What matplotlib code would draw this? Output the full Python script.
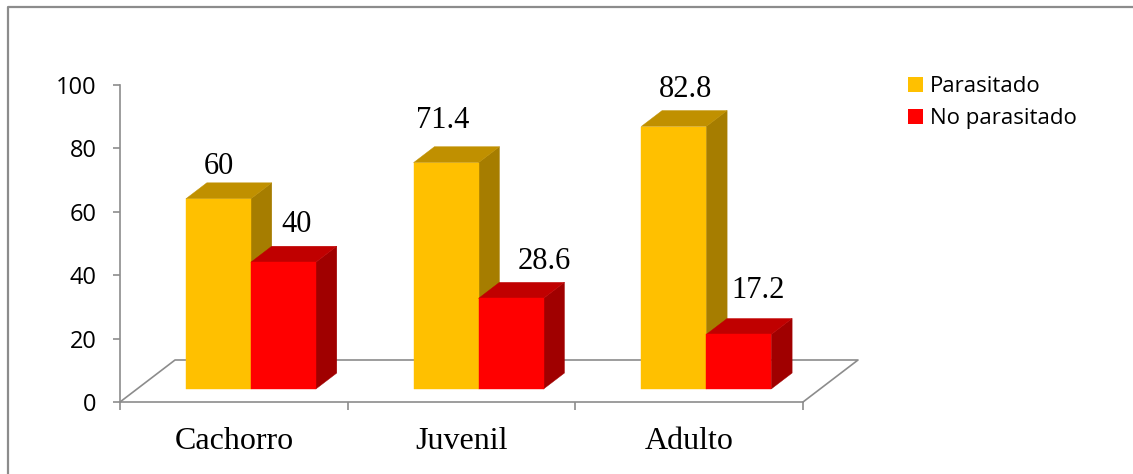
import matplotlib.pyplot as plt
from matplotlib.patches import Polygon, Patch
from matplotlib.lines import Line2D

categories = ['Cachorro', 'Juvenil', 'Adulto']
parasitado = [60, 71.4, 82.8]
no_parasitado = [40, 28.6, 17.2]
series_names = ['Parasitado', 'No parasitado']

# face colours: front, top, side
yellow = ('#FFC000', '#C09000', '#A67D00')
red = ('#FF0000', '#C00000', '#A00000')
gray = '#8C8C8C'

# oblique projection of the depth axis (category units, value units)
DX, DY = 0.2416, 13.25
Z0, Z1 = 0.31, 0.69
BAR_W = 0.2855

# label nudges in pixels (x, y above the back-top edge)
label_dx = [[-10, -14, 1], [3, 23, 9]]
label_dy = [[9, 19, 14], [14, 13, 20]]

W, H = 1133, 474
fig = plt.figure(figsize=(W / 100, H / 100), dpi=100)
ax = fig.add_axes([120 / W, (H - 402) / H, (803 - 120) / W, (402 - 85) / H])
ax.set_xlim(0, 3)
ax.set_ylim(0, 100)


def proj(x, y, z):
    return (x + z * DX, y + z * DY)


def bar3d(x0, x1, v, cols):
    front = [proj(x0, 0, Z0), proj(x1, 0, Z0), proj(x1, v, Z0), proj(x0, v, Z0)]
    top = [proj(x0, v, Z0), proj(x1, v, Z0), proj(x1, v, Z1), proj(x0, v, Z1)]
    side = [proj(x1, 0, Z0), proj(x1, v, Z0), proj(x1, v, Z1), proj(x1, 0, Z1)]
    for pts, c in zip((side, top, front), (cols[2], cols[1], cols[0])):
        ax.add_patch(Polygon(pts, closed=True, facecolor=c, edgecolor=c,
                             linewidth=0.3, clip_on=False, zorder=3))


# floor outline
fx = [0, DX, 3 + DX, 3]
fy = [0, DY, DY, 0]
ax.add_line(Line2D(fx, fy, color=gray, linewidth=1.2, clip_on=False, zorder=1))

for i in range(len(categories)):
    c = i + 0.5
    for s, (vals, cols) in enumerate(((parasitado, yellow), (no_parasitado, red))):
        x0 = c - BAR_W + s * BAR_W
        x1 = x0 + BAR_W
        v = vals[i]
        bar3d(x0, x1, v, cols)
        tx, _ = proj((x0 + x1) / 2, v, (Z0 + Z1) / 2)
        ty = v + Z1 * DY
        ax.annotate(f'{v:g}', (tx, ty), xytext=(label_dx[s][i] * 0.72, label_dy[s][i] * 0.72),
                    textcoords='offset points', ha='center', va='baseline',
                    fontsize=22, family='Liberation Serif', color='black',
                    annotation_clip=False, zorder=5)

# axes styling
for side in ('top', 'right'):
    ax.spines[side].set_visible(False)
for side in ('left', 'bottom'):
    ax.spines[side].set_color(gray)
    ax.spines[side].set_linewidth(1.2)
ax.set_yticks(range(0, 101, 20))
ax.tick_params(axis='y', direction='out', length=5, width=1.2, color=gray,
               pad=12, labelsize=17, labelcolor='black')
for t in ax.get_yticklabels():
    t.set_family('Open Sans')
ax.set_xticks([0, 1, 2, 3])
ax.set_xticklabels([])
ax.tick_params(axis='x', which='major', direction='out', length=6, width=1.2, color=gray)
ax.set_xticks([0.5, 1.5, 2.5], minor=True)
ax.set_xticklabels(categories, minor=True, fontsize=23, family='Liberation Serif')
ax.tick_params(axis='x', which='minor', length=0, pad=18)
ax.patch.set_visible(False)

handles = [Patch(facecolor=yellow[0], edgecolor='none'),
           Patch(facecolor=red[0], edgecolor='none')]
fig.legend(handles, series_names, loc='upper left',
           bbox_to_anchor=(908 / W, 1 - 76 / H), frameon=False,
           prop={'family': 'Open Sans', 'size': 16},
           handlelength=0.68, handleheight=0.66, handletextpad=0.32,
           labelspacing=0.5, borderpad=0, borderaxespad=0)

# outer frame (left and top edges)
fig.add_artist(Line2D([8 / W, 8 / W, 1], [0, 1 - 7 / H, 1 - 7 / H],
                      transform=fig.transFigure, color=gray, linewidth=1.6))

fig.savefig('out.png', dpi=100)
